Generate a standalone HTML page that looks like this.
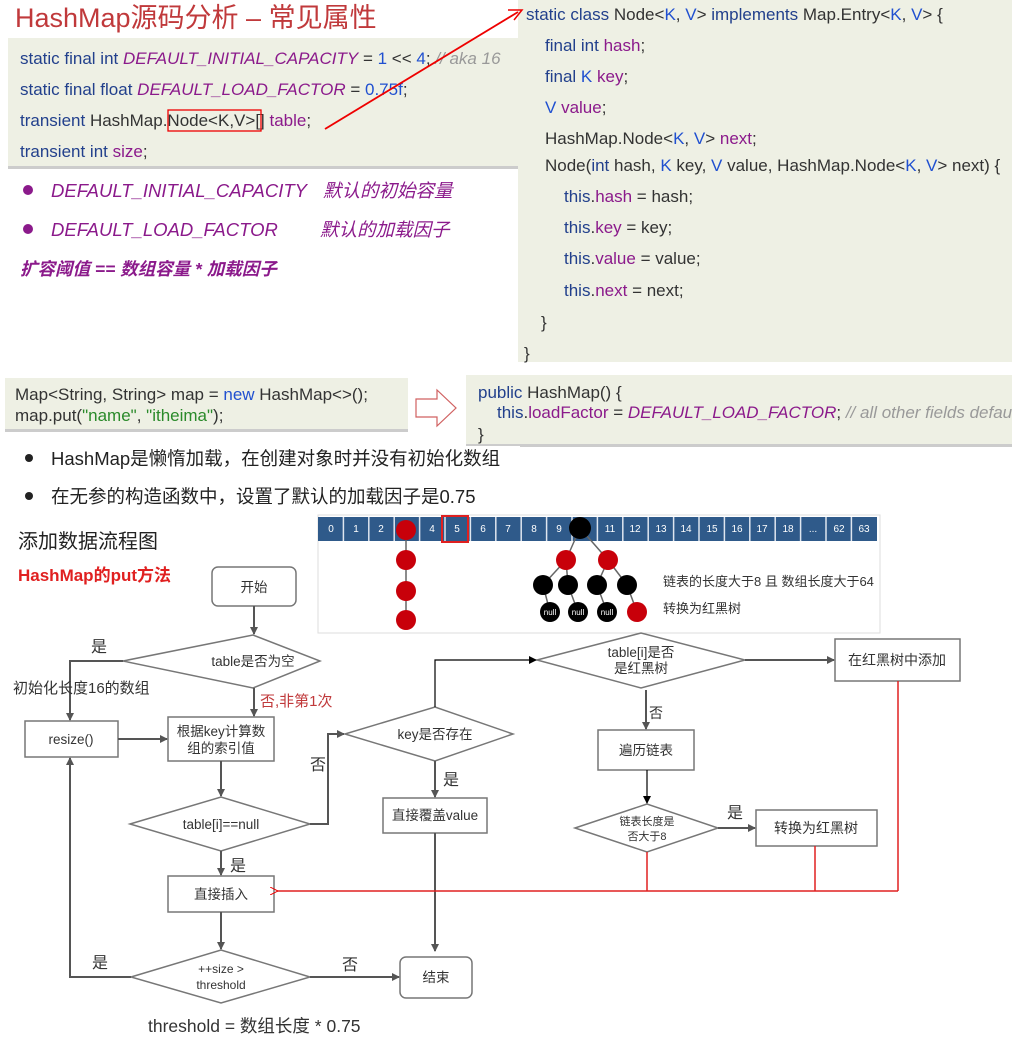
<!DOCTYPE html>
<html><head><meta charset="utf-8"><style>
body{margin:0;width:1012px;height:1045px;overflow:hidden;background:#fff}
svg{display:block}
text{font-family:"Liberation Sans","Noto Sans CJK SC",sans-serif}
</style></head><body>
<svg width="1012" height="1045" viewBox="0 0 1012 1045" xmlns="http://www.w3.org/2000/svg">
<defs>
<marker id="ag" markerWidth="8" markerHeight="8" refX="7" refY="4" orient="auto" markerUnits="userSpaceOnUse"><path d="M0,0 L8,4 L0,8 z" fill="#555"/></marker>
<marker id="ak" markerWidth="8" markerHeight="8" refX="7" refY="4" orient="auto" markerUnits="userSpaceOnUse"><path d="M0,0 L8,4 L0,8 z" fill="#000"/></marker>
<marker id="ar" markerWidth="8" markerHeight="8" refX="1" refY="4" orient="auto" markerUnits="userSpaceOnUse"><path d="M8,0 L0,4 L8,8" fill="none" stroke="#e00" stroke-width="1"/></marker>
</defs>
<text x="15" y="27" font-size="27" fill="#c0393b">HashMap源码分析 – 常见属性</text>
<rect x="8" y="38" width="512" height="130" fill="#eef0e4"/>
<rect x="8" y="166" width="512" height="3" fill="#ccc"/>
<g font-size="17">
<text x="20" y="64" fill="#22408c">static final int <tspan fill="#8b1a8b" font-style="italic">DEFAULT_INITIAL_CAPACITY</tspan><tspan fill="#333"> = </tspan><tspan fill="#2050d0">1</tspan><tspan fill="#333"> &lt;&lt; </tspan><tspan fill="#2050d0">4</tspan><tspan fill="#333">; </tspan><tspan fill="#999" font-style="italic">// aka 16</tspan></text>
<text x="20" y="95" fill="#22408c">static final float <tspan fill="#8b1a8b" font-style="italic">DEFAULT_LOAD_FACTOR</tspan><tspan fill="#333"> = </tspan><tspan fill="#2050d0">0.75f</tspan><tspan fill="#333">;</tspan></text>
<text x="20" y="126" fill="#22408c">transient <tspan fill="#333">HashMap.Node&lt;K,V&gt;[] </tspan><tspan fill="#8b1a8b">table</tspan><tspan fill="#333">;</tspan></text>
<text x="20" y="157" fill="#22408c">transient int <tspan fill="#8b1a8b">size</tspan><tspan fill="#333">;</tspan></text>
</g>
<rect x="168" y="110" width="93" height="21" fill="none" stroke="#e00" stroke-width="1.3"/>
<circle cx="28" cy="190" r="5" fill="#8b1a8b"/>
<circle cx="28" cy="229" r="5" fill="#8b1a8b"/>
<g font-size="18.5" fill="#8b1a8b" font-style="italic">
<text x="51" y="197">DEFAULT_INITIAL_CAPACITY</text><text x="323" y="197">默认的初始容量</text>
<text x="51" y="236">DEFAULT_LOAD_FACTOR</text><text x="320" y="236">默认的加载因子</text>
<text x="20" y="275" font-weight="bold" font-size="17.5">扩容阈值 == 数组容量 *  加载因子</text>
</g>
<rect x="518" y="0" width="494" height="362" fill="#eef0e4"/>
<g font-size="17" fill="#333">
<text x="526" y="20"><tspan fill="#22408c">static class </tspan>Node&lt;<tspan fill="#2050d0">K</tspan>, <tspan fill="#2050d0">V</tspan>&gt; <tspan fill="#22408c">implements </tspan>Map.Entry&lt;<tspan fill="#2050d0">K</tspan>, <tspan fill="#2050d0">V</tspan>&gt; {</text>
<text x="545" y="51"><tspan fill="#22408c">final int </tspan><tspan fill="#8b1a8b">hash</tspan>;</text>
<text x="545" y="82"><tspan fill="#22408c">final </tspan><tspan fill="#2050d0">K</tspan> <tspan fill="#8b1a8b">key</tspan>;</text>
<text x="545" y="113"><tspan fill="#2050d0">V</tspan> <tspan fill="#8b1a8b">value</tspan>;</text>
<text x="545" y="144">HashMap.Node&lt;<tspan fill="#2050d0">K</tspan>, <tspan fill="#2050d0">V</tspan>&gt; <tspan fill="#8b1a8b">next</tspan>;</text>
<text x="545" y="171">Node(<tspan fill="#22408c">int </tspan>hash, <tspan fill="#2050d0">K</tspan> key, <tspan fill="#2050d0">V</tspan> value, HashMap.Node&lt;<tspan fill="#2050d0">K</tspan>, <tspan fill="#2050d0">V</tspan>&gt; next) {</text>
<text x="564" y="202"><tspan fill="#22408c">this</tspan>.<tspan fill="#8b1a8b">hash</tspan> = hash;</text>
<text x="564" y="233"><tspan fill="#22408c">this</tspan>.<tspan fill="#8b1a8b">key</tspan> = key;</text>
<text x="564" y="264"><tspan fill="#22408c">this</tspan>.<tspan fill="#8b1a8b">value</tspan> = value;</text>
<text x="564" y="296"><tspan fill="#22408c">this</tspan>.<tspan fill="#8b1a8b">next</tspan> = next;</text>
<text x="541" y="328">}</text>
<text x="524" y="359">}</text>
</g>
<line x1="325" y1="129" x2="518" y2="12" stroke="#e00" stroke-width="1.8"/>
<path d="M508,10 L522,10 L514,20" fill="none" stroke="#e00" stroke-width="1.5"/>
<rect x="5" y="378" width="403" height="52" fill="#eef0e4"/>
<rect x="5" y="429" width="403" height="3" fill="#ccc"/>
<g font-size="17" fill="#333">
<text x="15" y="400">Map&lt;String, String&gt; map = <tspan fill="#2050d0">new</tspan> HashMap&lt;&gt;();</text>
<text x="15" y="421">map.put(<tspan fill="#2a8a2a">"name"</tspan>, <tspan fill="#2a8a2a">"itheima"</tspan>);</text>
</g>
<path d="M416,399 L437,399 L437,390 L456,408 L437,426 L437,417 L416,417 Z" fill="#fff" stroke="#d06060" stroke-width="1.2"/>
<rect x="466" y="375" width="546" height="70" fill="#eef0e4"/>
<rect x="466" y="444" width="546" height="3" fill="#ccc"/>
<g font-size="17" fill="#333">
<text x="478" y="398"><tspan fill="#22408c">public </tspan>HashMap() {</text>
<text x="497" y="418"><tspan fill="#22408c">this</tspan>.<tspan fill="#8b1a8b">loadFactor</tspan> = <tspan fill="#8b1a8b" font-style="italic">DEFAULT_LOAD_FACTOR</tspan>; <tspan fill="#999" font-style="italic">// all other fields defaulted</tspan></text>
<text x="478" y="440">}</text>
</g>
<rect x="0" y="446" width="520" height="30" fill="#fff"/>
<circle cx="29" cy="458" r="4" fill="#222"/>
<circle cx="29" cy="496" r="4" fill="#222"/>
<g font-size="18.5" fill="#222">
<text x="51" y="465">HashMap是懒惰加载，在创建对象时并没有初始化数组</text>
<text x="51" y="503">在无参的构造函数中，设置了默认的加载因子是0.75</text>
</g>
<text x="18" y="548" font-size="20" fill="#222">添加数据流程图</text>
<text x="18" y="581" font-size="17" fill="#e02020" font-weight="bold">HashMap的put方法</text>
<rect x="318" y="515" width="562" height="118" fill="#fff" stroke="#ddd"/>
<g font-size="10" fill="#fff" text-anchor="middle">
<rect x="318" y="517" width="559" height="24" fill="#2f5a8a"/>
<g stroke="#dfe6ef" stroke-width="1.5">
<line x1="343.4" y1="517" x2="343.4" y2="541"/><line x1="368.8" y1="517" x2="368.8" y2="541"/><line x1="394.2" y1="517" x2="394.2" y2="541"/><line x1="419.6" y1="517" x2="419.6" y2="541"/><line x1="445" y1="517" x2="445" y2="541"/><line x1="470.4" y1="517" x2="470.4" y2="541"/><line x1="495.8" y1="517" x2="495.8" y2="541"/><line x1="521.2" y1="517" x2="521.2" y2="541"/><line x1="546.6" y1="517" x2="546.6" y2="541"/><line x1="572" y1="517" x2="572" y2="541"/><line x1="597.4" y1="517" x2="597.4" y2="541"/><line x1="622.8" y1="517" x2="622.8" y2="541"/><line x1="648.2" y1="517" x2="648.2" y2="541"/><line x1="673.6" y1="517" x2="673.6" y2="541"/><line x1="699" y1="517" x2="699" y2="541"/><line x1="724.4" y1="517" x2="724.4" y2="541"/><line x1="749.8" y1="517" x2="749.8" y2="541"/><line x1="775.2" y1="517" x2="775.2" y2="541"/><line x1="800.6" y1="517" x2="800.6" y2="541"/><line x1="826" y1="517" x2="826" y2="541"/><line x1="851.4" y1="517" x2="851.4" y2="541"/>
</g>
<text x="331" y="532">0</text><text x="356" y="532">1</text><text x="381" y="532">2</text><text x="432" y="532">4</text><text x="457" y="532">5</text><text x="483" y="532">6</text><text x="508" y="532">7</text><text x="534" y="532">8</text><text x="559" y="532">9</text><text x="610" y="532">11</text><text x="635" y="532">12</text><text x="661" y="532">13</text><text x="686" y="532">14</text><text x="712" y="532">15</text><text x="737" y="532">16</text><text x="762" y="532">17</text><text x="788" y="532">18</text><text x="813" y="532">...</text><text x="839" y="532">62</text><text x="864" y="532">63</text>
</g>
<rect x="442" y="516" width="26" height="26" fill="none" stroke="#e02020" stroke-width="2"/>
<g stroke="#666" stroke-width="1.5">
<line x1="406" y1="530" x2="406" y2="620"/>
<line x1="580" y1="528" x2="566" y2="560"/><line x1="580" y1="528" x2="608" y2="560"/>
<line x1="566" y1="560" x2="543" y2="585"/><line x1="566" y1="560" x2="568" y2="585"/>
<line x1="608" y1="560" x2="597" y2="585"/><line x1="608" y1="560" x2="627" y2="585"/>
<line x1="543" y1="585" x2="550" y2="612"/><line x1="568" y1="585" x2="578" y2="612"/>
<line x1="597" y1="585" x2="607" y2="612"/><line x1="627" y1="585" x2="637" y2="612"/>
</g>
<g fill="#c8000a">
<circle cx="406" cy="530" r="10"/><circle cx="406" cy="560" r="10"/><circle cx="406" cy="591" r="10"/><circle cx="406" cy="620" r="10"/>
<circle cx="566" cy="560" r="10"/><circle cx="608" cy="560" r="10"/><circle cx="637" cy="612" r="10"/>
</g>
<g fill="#000">
<circle cx="580" cy="528" r="11"/>
<circle cx="543" cy="585" r="10"/><circle cx="568" cy="585" r="10"/><circle cx="597" cy="585" r="10"/><circle cx="627" cy="585" r="10"/>
<circle cx="550" cy="612" r="10"/><circle cx="578" cy="612" r="10"/><circle cx="607" cy="612" r="10"/>
</g>
<g font-size="8" fill="#fff" text-anchor="middle"><text x="550" y="615">null</text><text x="578" y="615">null</text><text x="607" y="615">null</text></g>
<text x="663" y="586" font-size="13" fill="#333">链表的长度大于8 且 数组长度大于64</text>
<text x="663" y="613" font-size="13" fill="#333">转换为红黑树</text>
<g fill="#fff" stroke="#777" stroke-width="1.5">
<rect x="212" y="567" width="84" height="39" rx="6"/>
<polygon points="123,661 253,635 320,661 253,688"/>
<rect x="25" y="721" width="93" height="36"/>
<rect x="168" y="717" width="106" height="44"/>
<polygon points="130,824 221,797 310,824 221,851"/>
<polygon points="345,734 435,707 513,734 435,761"/>
<rect x="383" y="798" width="104" height="35"/>
<rect x="168" y="876" width="106" height="36"/>
<polygon points="131,977 221,950 310,977 221,1003"/>
<rect x="400" y="957" width="72" height="41" rx="6"/>
<polygon points="537,660 641,633 745,660 641,688"/>
<rect x="835" y="639" width="125" height="42"/>
<rect x="598" y="730" width="96" height="40"/>
<polygon points="575,828 647,804 718,828 647,852"/>
<rect x="756" y="810" width="121" height="36"/>
</g>
<g stroke="#555" stroke-width="2" fill="none" marker-end="url(#ag)">
<line x1="254" y1="606" x2="254" y2="634"/>
<polyline points="123,661 70,661 70,720"/>
<line x1="254" y1="688" x2="254" y2="716"/>
<line x1="118" y1="739" x2="167" y2="739"/>
<line x1="221" y1="761" x2="221" y2="796"/>
<polyline points="310,824 328,824 328,734 344,734"/>
<line x1="435" y1="761" x2="435" y2="797"/>
<line x1="435" y1="833" x2="435" y2="951"/>
<line x1="221" y1="851" x2="221" y2="875"/>
<line x1="221" y1="912" x2="221" y2="949"/>
<polyline points="131,977 70,977 70,758"/>
<line x1="310" y1="977" x2="399" y2="977"/>
<line x1="745" y1="660" x2="834" y2="660"/>
<line x1="646" y1="690" x2="646" y2="729"/>
<line x1="718" y1="828" x2="755" y2="828"/>
</g>
<g stroke="#000" stroke-width="1.2" fill="none" marker-end="url(#ak)">
<polyline points="435,707 435,660 536,660"/>
<line x1="647" y1="770" x2="647" y2="803"/>
</g>
<g stroke="#e02020" stroke-width="1.5" fill="none">
<line x1="647" y1="852" x2="647" y2="891"/>
<line x1="815" y1="846" x2="815" y2="891"/>
<line x1="898" y1="681" x2="898" y2="891"/>
<line x1="898" y1="891" x2="277" y2="891" marker-end="url(#ar)"/>
</g>
<g font-size="13.5" fill="#333" text-anchor="middle">
<text x="254" y="592">开始</text>
<text x="253" y="666">table是否为空</text>
<text x="71" y="744">resize()</text>
<text x="221" y="736">根据key计算数</text><text x="221" y="753">组的索引值</text>
<text x="221" y="829">table[i]==null</text>
<text x="435" y="739">key是否存在</text>
<text x="435" y="820">直接覆盖value</text>
<text x="221" y="899">直接插入</text>
<text x="221" y="973" font-size="12">++size &gt;</text><text x="221" y="989" font-size="12">threshold</text>
<text x="436" y="982">结束</text>
<text x="641" y="657">table[i]是否</text><text x="641" y="673">是红黑树</text>
<text x="897" y="665" font-size="14">在红黑树中添加</text>
<text x="646" y="755">遍历链表</text>
<text x="647" y="825" font-size="11">链表长度是</text><text x="647" y="840" font-size="11">否大于8</text>
<text x="816" y="833" font-size="14">转换为红黑树</text>
</g>
<g font-size="16" fill="#333">
<text x="91" y="652">是</text>
<text x="13" y="693" font-size="15">初始化长度16的数组</text>
<text x="260" y="706" fill="#c0393b" font-size="15">否,非第1次</text>
<text x="310" y="770">否</text>
<text x="443" y="785">是</text>
<text x="230" y="871">是</text>
<text x="92" y="968">是</text>
<text x="342" y="970">否</text>
<text x="649" y="718" font-size="14">否</text>
<text x="727" y="818">是</text>
</g>
<text x="148" y="1032" font-size="17.5" fill="#333">threshold = 数组长度 * 0.75</text>
</svg>
</body></html>
